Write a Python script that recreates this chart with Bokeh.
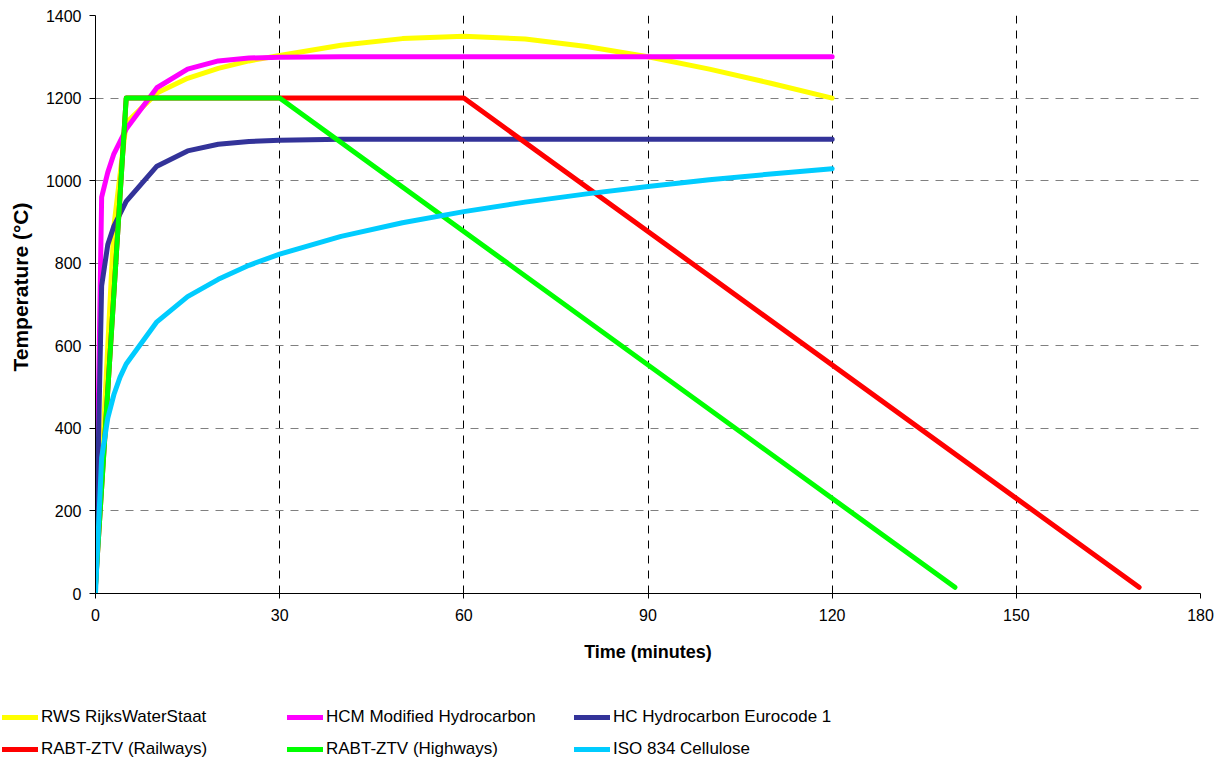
from bokeh.plotting import figure
from bokeh.models import Range1d, FixedTicker, Legend, LegendItem
from bokeh.embed import file_html
from bokeh.resources import INLINE

# ---- data ----
rws_time = [0, 3, 5, 10, 15, 20, 25, 30, 40, 50, 60, 70, 80, 90, 100, 110, 120]
rws_temp = [20, 890, 1140, 1212, 1248, 1272, 1290, 1303, 1328, 1344, 1350, 1343, 1325, 1300, 1270, 1236, 1200]

hcm_time = [0, 1, 2, 3, 5, 10, 15, 20, 25, 30, 40, 50, 60, 70, 80, 90, 100, 110, 120]
hcm_temp = [20, 960, 1020, 1065, 1125, 1225, 1270, 1290, 1297, 1299, 1300, 1300, 1300, 1300, 1300, 1300, 1300, 1300, 1300]

hc_time = [0, 1, 2, 3, 5, 10, 15, 20, 25, 30, 40, 50, 60, 70, 80, 90, 100, 110, 120]
hc_temp = [20, 745, 845, 890, 950, 1035, 1072, 1088, 1095, 1098, 1100, 1100, 1100, 1100, 1100, 1100, 1100, 1100, 1100]

rail_time = [0, 5, 60, 170]
rail_temp = [20, 1200, 1200, 15]

high_time = [0, 5, 30, 140]
high_temp = [20, 1200, 1200, 15]

iso_time = [0, 1, 2, 3, 4, 5, 10, 15, 20, 25, 30, 40, 50, 60, 70, 80, 90, 100, 110, 120]
iso_temp = [0, 329, 425, 482, 524, 556, 658, 719, 761, 795, 822, 865, 898, 925, 948, 968, 986, 1002, 1016, 1029]

series_names = ["RWS RijksWaterStaat", "HCM Modified Hydrocarbon", "HC Hydrocarbon Eurocode 1",
                "RABT-ZTV (Railways)", "RABT-ZTV (Highways)", "ISO 834 Cellulose"]
series_colors = ["#FFFF00", "#FF00FF", "#333399", "#FF0000", "#00FF00", "#00CCFF"]
series_data = [(rws_time, rws_temp), (hcm_time, hcm_temp), (hc_time, hc_temp),
               (rail_time, rail_temp), (high_time, high_temp), (iso_time, iso_temp)]

x_ticks = [0, 30, 60, 90, 120, 150, 180]
y_ticks = [0, 200, 400, 600, 800, 1000, 1200, 1400]

FONT = "Liberation Sans"
NBSP = "\u00a0"

# ---------------- main chart ----------------
p = figure(width=1220, height=690, output_backend="svg", toolbar_location=None,
           x_range=Range1d(0, 180), y_range=Range1d(0, 1400),
           min_border_left=95, min_border_right=20, min_border_top=15, min_border_bottom=97)
p.outline_line_color = None
p.background_fill_color = "white"
p.border_fill_color = "white"

for (t, v), c in zip(series_data, series_colors):
    p.line(t, v, line_color=c, line_width=5, line_cap="round", line_join="round")

p.xaxis.ticker = FixedTicker(ticks=x_ticks)
p.yaxis.ticker = FixedTicker(ticks=y_ticks)
for ax in (p.xaxis[0], p.yaxis[0]):
    ax.axis_line_color = "black"
    ax.axis_line_width = 1
    ax.major_tick_line_color = "black"
    ax.major_tick_in = 0
    ax.minor_tick_line_color = None
    ax.major_label_text_font = FONT
    ax.major_label_text_font_size = "16px"
    ax.major_label_text_color = "black"
    ax.axis_label_text_font = FONT
    ax.axis_label_text_font_style = "bold"
    ax.axis_label_text_color = "black"

p.xaxis.axis_label = "Time (minutes)"
p.xaxis.axis_label_text_font_size = "18px"
p.xaxis.major_tick_out = 5
p.xaxis.major_label_standoff = 10
p.xaxis.axis_label_standoff = 18

p.yaxis.axis_label = NBSP * 6 + "Temperature (°C)"
p.yaxis.axis_label_text_font_size = "21px"
p.yaxis.major_tick_out = 6
p.yaxis.major_label_standoff = 8
p.yaxis.axis_label_standoff = 11

p.xgrid.ticker = FixedTicker(ticks=x_ticks)
p.ygrid.ticker = FixedTicker(ticks=y_ticks)
p.xgrid.grid_line_color = "black"
p.xgrid.grid_line_dash = "8 7"
p.xgrid.grid_line_width = 1
p.ygrid.grid_line_color = "#808080"
p.ygrid.grid_line_dash = "8 7"
p.ygrid.grid_line_width = 1

# ---------------- legend strip (separate root, full-width frame) ----------------
lg = figure(width=1220, height=71, output_backend="svg", toolbar_location=None,
            x_range=Range1d(0, 180), y_range=Range1d(-3000, -2000),
            x_axis_location=None, y_axis_location=None,
            min_border_left=0, min_border_right=0, min_border_top=0, min_border_bottom=0)
lg.outline_line_color = None
lg.grid.visible = False
lg.background_fill_color = "white"
lg.border_fill_color = "white"

# same series drawn again (out of this strip's view) so that the legend keys have renderers
keys = []
for (t, v), c in zip(series_data, series_colors):
    keys.append(lg.line(t, v, line_color=c, line_width=5, line_cap="round"))

col_x = [2, 287, 574]
for ci in range(3):
    items = [LegendItem(label=series_names[ci], renderers=[keys[ci]]),
             LegendItem(label=series_names[ci + 3], renderers=[keys[ci + 3]])]
    leg = Legend(items=items, location=(col_x[ci], 2), orientation="vertical",
                 glyph_width=36, glyph_height=20, label_height=20, label_standoff=3,
                 spacing=12, padding=0, margin=0,
                 label_text_font=FONT, label_text_font_size="17px", label_text_color="black",
                 border_line_color=None, background_fill_alpha=0)
    lg.add_layout(leg)

open("out.html", "w").write(file_html([p, lg], INLINE))
